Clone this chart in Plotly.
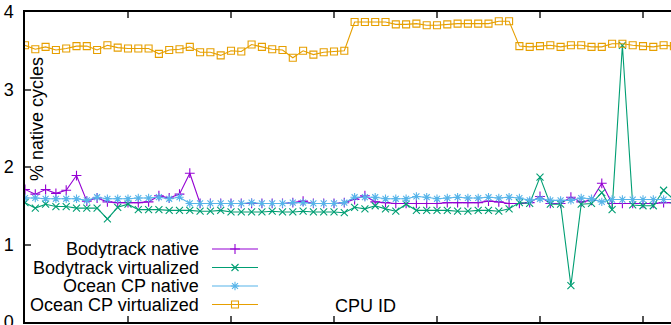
import plotly.graph_objects as go

cpu_ids = list(range(64))

bodytrack_native = [
    1.71, 1.65, 1.71, 1.66, 1.70, 1.89, 1.56, 1.60, 1.55, 1.54,
    1.54, 1.54, 1.55, 1.63, 1.60, 1.65, 1.92, 1.53, 1.53, 1.53,
    1.53, 1.53, 1.53, 1.53, 1.53, 1.53, 1.54, 1.56, 1.53, 1.53,
    1.53, 1.54, 1.58, 1.63, 1.55, 1.54, 1.53, 1.53, 1.53, 1.53,
    1.53, 1.54, 1.54, 1.54, 1.54, 1.56, 1.55, 1.53, 1.53, 1.54,
    1.62, 1.53, 1.53, 1.61, 1.55, 1.57, 1.79, 1.53, 1.53, 1.53,
    1.53, 1.53, 1.54, 1.54,
]
bodytrack_virtualized = [
    1.54, 1.47, 1.52, 1.49, 1.49, 1.47, 1.47, 1.47, 1.33, 1.48,
    1.52, 1.45, 1.45, 1.45, 1.44, 1.44, 1.44, 1.43, 1.43, 1.44,
    1.42, 1.42, 1.42, 1.42, 1.43, 1.42, 1.42, 1.43, 1.42, 1.42,
    1.42, 1.41, 1.48, 1.46, 1.50, 1.46, 1.43, 1.52, 1.44, 1.44,
    1.44, 1.44, 1.43, 1.43, 1.44, 1.44, 1.43, 1.46, 1.54, 1.53,
    1.87, 1.52, 1.52, 0.47, 1.52, 1.53, 1.67, 1.45, 3.57, 1.51,
    1.50, 1.50, 1.70, 1.58,
]
ocean_native = [
    1.60, 1.60, 1.59, 1.59, 1.59, 1.59, 1.57, 1.61, 1.59, 1.59,
    1.59, 1.60, 1.60, 1.61, 1.59, 1.61, 1.53, 1.53, 1.53, 1.53,
    1.53, 1.53, 1.54, 1.53, 1.53, 1.53, 1.54, 1.54, 1.53, 1.53,
    1.53, 1.54, 1.61, 1.61, 1.61, 1.59, 1.59, 1.59, 1.62, 1.61,
    1.59, 1.60, 1.61, 1.60, 1.60, 1.61, 1.60, 1.61, 1.60, 1.57,
    1.59, 1.57, 1.57, 1.57, 1.60, 1.59, 1.55, 1.58, 1.58, 1.58,
    1.58, 1.58, 1.58, 1.58,
]
ocean_virtualized = [
    3.57, 3.52, 3.55, 3.51, 3.53, 3.56, 3.56, 3.51, 3.57, 3.54,
    3.53, 3.53, 3.53, 3.46, 3.51, 3.52, 3.55, 3.48, 3.48, 3.44,
    3.50, 3.49, 3.58, 3.55, 3.52, 3.51, 3.41, 3.50, 3.45, 3.48,
    3.49, 3.50, 3.87, 3.87, 3.87, 3.87, 3.84, 3.84, 3.85, 3.83,
    3.83, 3.84, 3.85, 3.85, 3.85, 3.85, 3.88, 3.88, 3.56, 3.55,
    3.56, 3.57, 3.55, 3.57, 3.57, 3.55, 3.55, 3.59, 3.59, 3.57,
    3.56, 3.55, 3.57, 3.56,
]

series_names = ["Bodytrack native", "Bodytrack virtualized",
                "Ocean CP native", "Ocean CP virtualized"]
series_values = [bodytrack_native, bodytrack_virtualized, ocean_native, ocean_virtualized]
colors = ["#9400d3", "#009e73", "#56b4e9", "#e69f00"]
symbols = ["cross-thin", "x-thin", "asterisk", "square-open"]
y_ticks = [0, 1, 2, 3, 4]

FONT = "Liberation Sans, Arial, sans-serif"
W, H = 671, 325
L, R, T, B = 25, 0, 12, 3
MSIZE = 7

fig = go.Figure()
for name, vals, col, sym in zip(series_names, series_values, colors, symbols):
    fig.add_trace(go.Scatter(
        x=cpu_ids, y=vals, mode="lines+markers", name=name,
        line=dict(color=col, width=1.1),
        marker=dict(symbol=sym, size=MSIZE, color=col, line=dict(color=col, width=1.1)),
        showlegend=False, cliponaxis=True,
    ))

# manual gnuplot-style key (pixel coordinate overlay axes)
key_rows = [249, 267.5, 286, 304.5]
for name, col, sym, yk in zip(series_names, colors, symbols, key_rows):
    fig.add_trace(go.Scatter(
        x=[212, 258], y=[yk, yk], mode="lines", xaxis="x2", yaxis="y2",
        line=dict(color=col, width=1.1), showlegend=False, hoverinfo="skip"))
    fig.add_trace(go.Scatter(
        x=[235], y=[yk], mode="markers", xaxis="x2", yaxis="y2",
        marker=dict(symbol=sym, size=MSIZE, color=col, line=dict(color=col, width=1.1)),
        showlegend=False, hoverinfo="skip"))
    fig.add_annotation(x=200, y=yk, xref="x2", yref="y2", text=name,
                       showarrow=False, xanchor="right", yanchor="middle",
                       height=18, borderpad=0,
                       font=dict(family=FONT, size=18, color="black"))

fig.add_annotation(x=37, y=119, xref="x2", yref="y2", text="% native cycles",
                   textangle=-90, showarrow=False, xanchor="center", yanchor="middle",
                   font=dict(family=FONT, size=18, color="black"))
fig.add_annotation(x=365, y=306, xref="x2", yref="y2", text="CPU ID",
                   showarrow=False, xanchor="center", yanchor="middle",
                   font=dict(family=FONT, size=18, color="black"))

fig.update_layout(
    width=W, height=H,
    margin=dict(l=L, r=R, t=T, b=B, pad=0, autoexpand=False),
    paper_bgcolor="white", plot_bgcolor="white",
    font=dict(family=FONT, size=18, color="black"),
    xaxis=dict(range=[0, (W - L) / 10.3], tickvals=[0, 10, 20, 30, 40, 50, 60],
               showticklabels=False, ticks="inside", ticklen=6, tickcolor="#555",
               tickwidth=1.5, showline=True, linecolor="black", linewidth=1.5,
               mirror="ticks", showgrid=False, zeroline=False, automargin=False),
    yaxis=dict(range=[0, 4], tickvals=y_ticks, ticktext=[str(v) for v in y_ticks],
               ticks="inside", ticklen=6, tickcolor="#555", tickwidth=1.5,
               showline=True, linecolor="black", linewidth=1.5,
               showgrid=False, zeroline=False, ticklabelstandoff=6,
               ticklabeloverflow="allow", automargin=False,
               tickfont=dict(family=FONT, size=18, color="black")),
    xaxis2=dict(range=[L, W], overlaying="x", visible=False, fixedrange=True),
    yaxis2=dict(range=[H - B, T], overlaying="y", visible=False, fixedrange=True),
)

fig.write_html("out.html")
